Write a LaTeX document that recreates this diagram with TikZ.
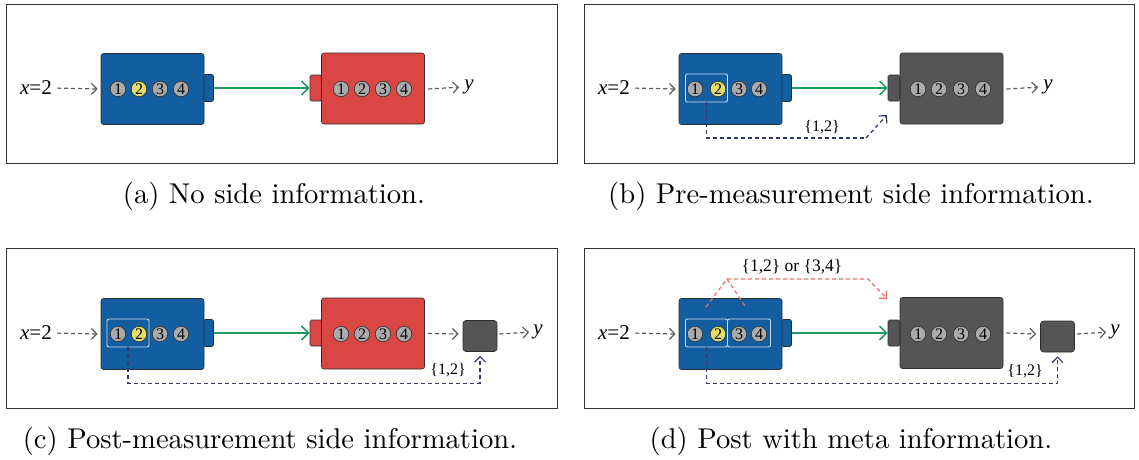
\documentclass[tikz,border=0pt]{standalone}
\usepackage{fontspec}
\newfontfamily\tms{Liberation Serif}
\newfontfamily\capfont{lmroman10-regular}[Extension=.otf]
\usetikzlibrary{arrows.meta,calc}
\definecolor{blueC}{RGB}{18,94,160}
\definecolor{redC}{RGB}{217,70,68}
\definecolor{grayC}{RGB}{85,85,85}
\definecolor{greenC}{RGB}{30,155,95}
\definecolor{numgray}{RGB}{170,170,170}
\definecolor{numyel}{RGB}{228,222,105}
\definecolor{navyC}{RGB}{50,55,110}
\definecolor{salmonC}{RGB}{235,110,95}
\definecolor{arrgray}{RGB}{90,90,90}
\definecolor{hlC}{RGB}{205,222,240}
\definecolor{edgeC}{RGB}{45,45,45}
\tikzset{
  x=1pt,y=-1pt,
  frame/.style={draw=black!80,line width=0.9},
  dev/.style={draw=edgeC,line width=0.6,rounded corners=2.5,inner sep=0,minimum width=103,minimum height=71},
  tabbox/.style={draw=edgeC,line width=0.6,rounded corners=1.5,inner sep=0,minimum width=12,minimum height=26},
  sq/.style={draw=edgeC,line width=0.6,fill=grayC,rounded corners=3,inner sep=0,minimum width=34,minimum height=31},
  num/.style={circle,draw=edgeC,line width=0.6,fill=numgray,inner sep=0,minimum size=15.5,font=\tms\fontsize{16}{16}\selectfont},
  yel/.style={fill=numyel},
  hl/.style={draw=hlC,line width=0.9,rounded corners=2,inner sep=0,minimum width=42,minimum height=28},
  lab/.style={inner sep=1,font=\tms\fontsize{21}{21}\selectfont},
  slab/.style={inner sep=1,font=\tms\fontsize{16}{16}\selectfont},
  captext/.style={anchor=base,inner sep=0,font=\capfont\fontsize{28.6}{30}\selectfont},
  gdash/.style={draw=arrgray,line width=1.2,dash pattern=on 4 off 3,-{Straight Barb[length=5.5,width=11]}},
  garr/.style={draw=greenC,line width=1.6,-{Straight Barb[length=7,width=14]}},
  ndash/.style={draw=navyC,line width=1.2,dash pattern=on 4 off 3},
  rdash/.style={draw=salmonC,line width=1.2,dash pattern=on 4 off 3},
  ntip/.style={-{Straight Barb[length=5.5,width=11]}},
}
\begin{document}
\begin{tikzpicture}
\useasboundingbox (0,0) rectangle (1139,459);
% frames
\draw[frame] (6.5,4) rectangle (557,163);
\draw[frame] (584,4) rectangle (1134.5,163);
\draw[frame] (6.5,248.5) rectangle (557,408);
\draw[frame] (584,248.5) rectangle (1134.5,408);
% captions
\node[captext] (capa) at (274,203) {(a) No side information.};
\node[captext] (capb) at (851,203) {(b) Pre-measurement side information.};
\node[captext] (capc) at (270,448) {(c) Post-measurement side information.};
\node[captext] (capd) at (851,448) {(d) Post with meta information.};

% ---------------- (a)
\node[tabbox,fill=blueC,minimum width=10,minimum height=27] (a-bt) at (208.5,88) {};
\node[dev,fill=blueC] (a-b) at (152.5,89) {};
\node[num] (a-b1) at (118,89) {1};
\node[num,yel] (a-b2) at (139,89) {2};
\node[num] (a-b3) at (160,89) {3};
\node[num] (a-b4) at (181,89) {4};
\node[lab] (a-x) at (36,88) {{\itshape x}=2};
\draw[gdash,shorten <=4] (a-x.east) -- ($(a-b.west)+(-3,0)$);
\node[tabbox,fill=redC] (a-rt) at (316,88) {};
\node[dev,fill=redC] (a-r) at (373,88.5) {};
\node[num] (a-r1) at (341,89) {1};
\node[num] (a-r2) at (362,89) {2};
\node[num] (a-r3) at (383,89) {3};
\node[num] (a-r4) at (404,89) {4};
\draw[garr] (a-bt.east) -- (a-rt.west);
\node[lab] (a-y) at (469,87) {\itshape y};
\draw[gdash,shorten >=4] ($(a-r.east)+(3,0.5)$) -- (a-y.west);

% ---------------- (b)
\node[tabbox,fill=blueC,minimum width=10,minimum height=27] (b-bt) at (786.5,88) {};
\node[dev,fill=blueC] (b-b) at (730.5,89) {};
\node[hl] (b-h) at (706.5,88) {};
\node[num] (b-b1) at (695,89) {1};
\node[num,yel] (b-b2) at (718,89) {2};
\node[num] (b-b3) at (739,89) {3};
\node[num] (b-b4) at (759,89) {4};
\node[lab] (b-x) at (614,88) {{\itshape x}=2};
\draw[gdash,shorten <=4] (b-x.east) -- ($(b-b.west)+(-3,0)$);
\node[tabbox,fill=grayC] (b-gt) at (894,88) {};
\node[dev,fill=grayC] (b-g) at (951.5,88.5) {};
\node[num] (b-g1) at (918,89) {1};
\node[num] (b-g2) at (939,89) {2};
\node[num] (b-g3) at (961,89) {3};
\node[num] (b-g4) at (983,89) {4};
\draw[garr] (b-bt.east) -- (b-gt.west);
\node[lab] (b-y) at (1048,87) {\itshape y};
\draw[gdash,shorten >=4] ($(b-g.east)+(3,0.5)$) -- (b-y.west);
\coordinate (b-k) at (866,138);
\coordinate (b-tip) at (887,115);
\draw[ndash] (b-h.south) |- (b-k);
\draw[ndash,ntip] (b-k) -- (b-tip);
\node[slab] (b-l) at (822,127) {\{1,2\}};

% ---------------- (c)
\node[tabbox,fill=blueC,minimum width=10,minimum height=27] (c-bt) at (208.5,333) {};
\node[dev,fill=blueC] (c-b) at (152.5,334) {};
\node[hl] (c-h) at (128,333) {};
\node[num] (c-b1) at (118,334) {1};
\node[num,yel] (c-b2) at (139,334) {2};
\node[num] (c-b3) at (160,334) {3};
\node[num] (c-b4) at (181,334) {4};
\node[lab] (c-x) at (36,333) {{\itshape x}=2};
\draw[gdash,shorten <=4] (c-x.east) -- ($(c-b.west)+(-3,0)$);
\node[tabbox,fill=redC] (c-rt) at (316,333) {};
\node[dev,fill=redC] (c-r) at (373,333.5) {};
\node[num] (c-r1) at (341,334) {1};
\node[num] (c-r2) at (362,334) {2};
\node[num] (c-r3) at (383,334) {3};
\node[num] (c-r4) at (404,334) {4};
\draw[garr] (c-bt.east) -- (c-rt.west);
\node[sq] (c-s) at (480,336) {};
\draw[gdash] ($(c-r.east)+(3,0)$) -- ($(c-s.west)+(-4,-2)$);
\node[lab] (c-y) at (538,332) {\itshape y};
\draw[gdash,shorten >=3] ($(c-s.east)+(2,-2)$) -- (c-y.west);
\draw[ndash,ntip] (c-h.south) -- ++(0,36) -| ($(c-s.south)+(0,4)$);
\node[slab] (c-l) at (448,370) {\{1,2\}};

% ---------------- (d)
\node[tabbox,fill=blueC,minimum width=10,minimum height=27] (d-bt) at (786.5,333) {};
\node[dev,fill=blueC] (d-b) at (730.5,334) {};
\node[hl] (d-h1) at (706.5,333) {};
\node[hl,minimum width=43] (d-h2) at (749,333) {};
\node[num] (d-b1) at (695,334) {1};
\node[num,yel] (d-b2) at (718,334) {2};
\node[num] (d-b3) at (739,334) {3};
\node[num] (d-b4) at (759,334) {4};
\node[lab] (d-x) at (614,333) {{\itshape x}=2};
\draw[gdash,shorten <=4] (d-x.east) -- ($(d-b.west)+(-3,0)$);
\node[tabbox,fill=grayC] (d-gt) at (894,333) {};
\node[dev,fill=grayC] (d-g) at (951.5,333) {};
\node[num] (d-g1) at (918,334) {1};
\node[num] (d-g2) at (939,334) {2};
\node[num] (d-g3) at (961,334) {3};
\node[num] (d-g4) at (983,334) {4};
\draw[garr] (d-bt.east) -- (d-gt.west);
\node[sq] (d-s) at (1057.5,336.5) {};
\draw[gdash] ($(d-g.east)+(3,0)$) -- ($(d-s.west)+(-4,-2.5)$);
\node[lab] (d-y) at (1115,332) {\itshape y};
\draw[gdash,shorten >=3] ($(d-s.east)+(2,-2.5)$) -- (d-y.west);
\draw[ndash,ntip] (d-h1.south) -- ++(0,36) -| ($(d-s.south)+(0,4)$);
\node[slab] (d-l) at (1025,371) {\{1,2\}};
\coordinate (d-p1) at (706,307);
\coordinate (d-pk) at (727,279);
\coordinate (d-p2) at (745,306);
\coordinate (d-k) at (868,279);
\coordinate (d-tip) at (887,299);
\draw[rdash] (d-p1) -- (d-pk) -- (d-p2);
\draw[rdash,ntip] (d-pk) -- (d-k) -- (d-tip);
\node[slab,font=\tms\fontsize{17.5}{17.5}\selectfont] (d-l2) at (792,267) {\{1,2\} or \{3,4\}};
\end{tikzpicture}
\end{document}
